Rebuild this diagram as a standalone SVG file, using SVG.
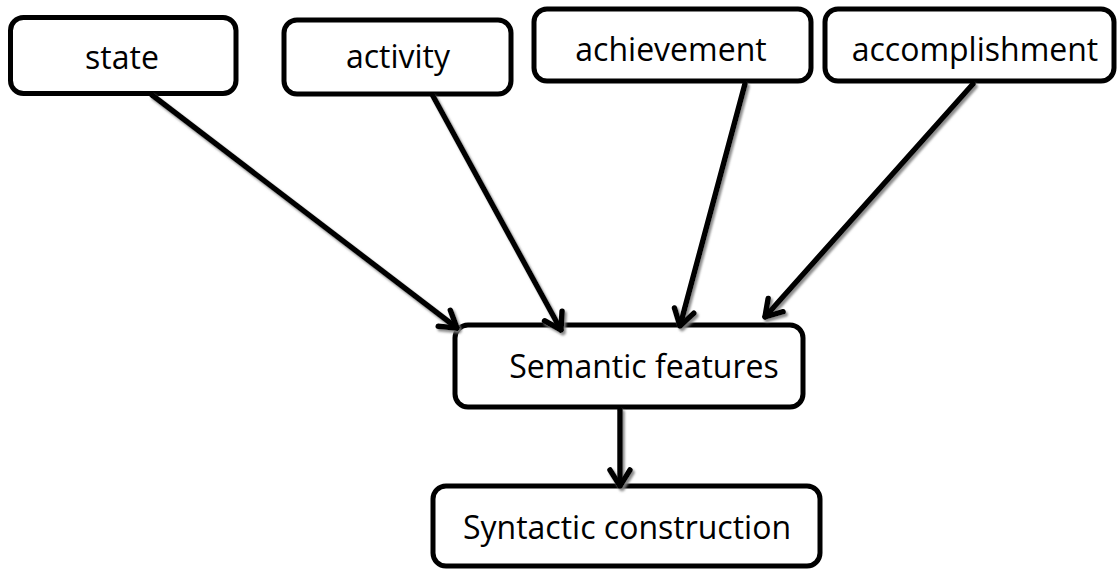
<svg xmlns="http://www.w3.org/2000/svg" width="1119" height="569" viewBox="0 0 1119 569">
  <style>
    .box { fill: #ffffff; stroke: #000000; stroke-width: 5; }
    .label { font-family: "Open Sans", "Liberation Sans", sans-serif; font-size: 32px; fill: #000000; text-anchor: middle; }
    .edge { fill: none; stroke: #000000; stroke-width: 5.5; stroke-linecap: round; stroke-linejoin: round; }
  </style>
  <defs>
    <filter id="shade" x="-20%" y="-20%" width="140%" height="140%">
      <feDropShadow dx="2" dy="2.5" stdDeviation="0.8" flood-color="#808080" flood-opacity="0.9"/>
    </filter>
    <marker id="head" viewBox="-20 -14 22 28" markerWidth="22" markerHeight="28" refX="0" refY="0" orient="auto" markerUnits="userSpaceOnUse">
      <path d="M -16 -10 L 0 0 L -16 10" fill="none" stroke="#000000" stroke-width="5.5" stroke-linecap="round" stroke-linejoin="miter"/>
    </marker>
  </defs>

  <g id="node-state">
    <rect class="box" x="10.5" y="17.5" width="225.5" height="76" rx="13"/>
    <text class="label" x="122" y="69">state</text>
  </g>
  <g id="node-activity">
    <rect class="box" x="284" y="20" width="227" height="74" rx="13"/>
    <text class="label" x="398" y="68">activity</text>
  </g>
  <g id="node-achievement">
    <rect class="box" x="534" y="9" width="277" height="72" rx="13"/>
    <text class="label" x="671" y="61">achievement</text>
  </g>
  <g id="node-accomplishment">
    <rect class="box" x="825" y="9" width="289" height="72" rx="13"/>
    <text class="label" x="975" y="61">accomplishment</text>
  </g>
  <g id="node-semantic">
    <rect class="box" x="455" y="325" width="348" height="82" rx="13"/>
    <text class="label" x="644" y="378">Semantic features</text>
  </g>
  <g id="node-syntactic">
    <rect class="box" x="433" y="486" width="387" height="80" rx="13"/>
    <text class="label" x="627" y="539">Syntactic construction</text>
  </g>

  <g id="connectors" filter="url(#shade)">
    <line class="edge" x1="152" y1="95" x2="457" y2="328" marker-end="url(#head)"/>
    <line class="edge" x1="433" y1="96" x2="561" y2="330" marker-end="url(#head)"/>
    <line class="edge" x1="745" y1="84" x2="680" y2="326" marker-end="url(#head)"/>
    <line class="edge" x1="973" y1="84" x2="765" y2="317" marker-end="url(#head)"/>
    <line class="edge" x1="620" y1="410" x2="620" y2="486" marker-end="url(#head)"/>
  </g>
</svg>
